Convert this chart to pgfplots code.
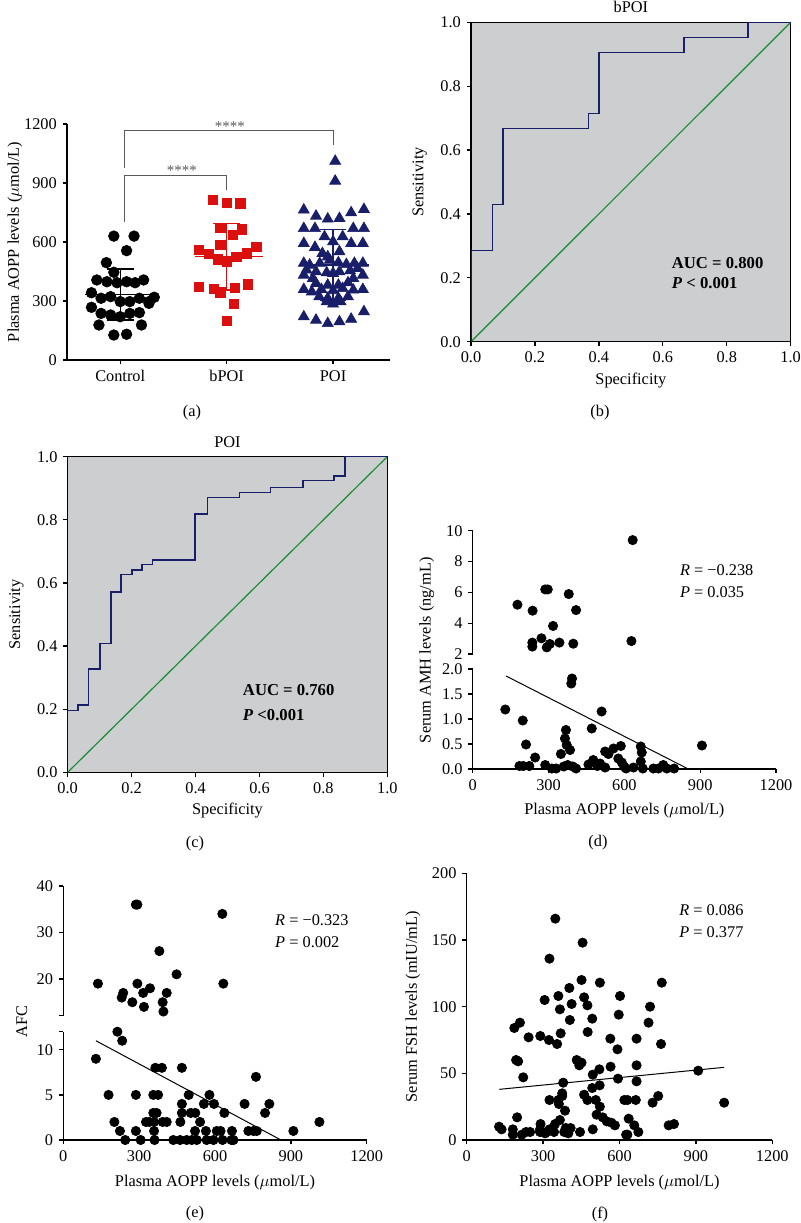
\documentclass[border=0pt]{standalone}
\usepackage{fontspec}
\setmainfont{Liberation Serif}
\usepackage{pgfplots}
\pgfplotsset{compat=1.18}
\definecolor{navyc}{RGB}{25,30,105}
\definecolor{redc}{RGB}{220,15,15}
\definecolor{rocbg}{RGB}{205,206,208}
\definecolor{rocgreen}{RGB}{20,140,50}
\definecolor{brk}{RGB}{90,90,90}
\pgfplotsset{
  every axis/.append style={
    scale only axis,
    anchor=south west,
    /pgf/number format/assume math mode=true,
    /pgf/number format/1000 sep={},
    tick align=outside,
    major tick length=2.6pt,
    axis line style={line width=0.8pt},
    every tick/.style={black, line width=0.8pt},
  },
  scat/.style={
    axis x line*=bottom, axis y line*=left,
    xmin=0, xmax=1200, xtick={0,300,600,900,1200},
    clip=false,
  },
  roc/.style={
    xmin=0, xmax=1, ymin=0, ymax=1,
    xtick={0,0.2,0.4,0.6,0.8,1}, ytick={0,0.2,0.4,0.6,0.8,1},
    tick pos=left,
    axis background/.style={fill=rocbg},
    xticklabel style={/pgf/number format/.cd,fixed,fixed zerofill,precision=1},
    yticklabel style={/pgf/number format/.cd,fixed,fixed zerofill,precision=1},
    ylabel={Sensitivity}, xlabel={Specificity},
    ylabel style={at={(axis description cs:-0.16,0.5)},anchor=center},
    xlabel style={at={(axis description cs:0.5,-0.12)},anchor=center},
    title style={at={(axis description cs:0.5,1)},anchor=center,yshift=3pt},
  },
  dots/.style={only marks, mark=*, mark size=2.8pt, black},
}
\begin{document}
\begin{tikzpicture}[font=\fontsize{9.8}{11.5}\selectfont]
\useasboundingbox (0,0) rectangle (480pt,-733.8pt);

% ---------------- (a) ----------------
\begin{axis}[at={(40.2pt,-216pt)}, width=193.8pt, height=141.6pt,
  axis x line*=bottom, axis y line*=left,
  xmin=-0.5, xmax=2.535, ymin=0, ymax=1200,
  xtick={0,1,2}, xticklabels={Control,bPOI,POI},
  ytick={0,300,600,900,1200},
  ylabel={Plasma AOPP levels ($\mu$mol/L)},
  ylabel style={at={(axis description cs:-0.161,0.5)},anchor=center},
  clip=false]
% Control
\addplot[only marks, mark=*, mark size=3.2pt, black] coordinates {
(-0.06,630)(0.13,630)(0.06,556)(-0.13,495)(-0.06,446)(-0.22,407)(-0.125,398)(-0.03,393)(0.06,398)(0.14,393)(0.22,407)
(-0.27,342)(-0.18,314)(-0.09,322)(0,297)(0.09,297)(0.18,314)(0.27,297)(0.32,319)
(-0.27,268)(-0.18,237)(-0.09,229)(0,220)(0.09,237)(0.18,241)(0.27,288)(-0.2,178)(0.2,178)(-0.06,127)(0.06,131)};
% bPOI
\addplot[only marks, mark=square*, mark size=2.8pt, redc] coordinates {
(0.87,814)(1,800)(1.13,797)(0.94,673)(1.06,636)(1.14,664)(0.94,585)
(0.74,559)(0.83,539)(0.92,512)(1,500)(1.09,525)(1.19,542)(1.28,576)
(0.74,373)(0.88,361)(0.94,344)(1.08,368)(1.2,385)(1.07,285)(1,200)};
% POI
\addplot[only marks, mark=triangle*, mark size=3.8pt, navyc] coordinates {
(2.02,1011)(2.02,910)
(1.725,763)(1.84,732)(1.95,717)(2.06,720)(2.17,749)(2.29,766)
(1.725,669)(1.83,669)(2.19,669)(2.29,669)(1.92,627)(2.09,627)
(1.725,593)(1.83,573)(2,602)(2.17,593)(2.28,593)(1.9,542)(2.06,551)(1.95,525)
(1.725,492)(1.78,483)(1.875,492)(1.97,508)(2.05,495)(2.125,486)(2.2,492)(2.28,492)
(1.75,458)(1.84,449)(1.94,444)(2,441)(2.06,449)(2.16,454)(2.23,466)
(1.725,432)(2.28,432)(1.81,415)(2.19,415)
(1.84,390)(1.95,381)(2.05,381)(2.14,393)
(1.725,359)(1.8,347)(1.89,359)(2,353)(2.09,364)(2.19,356)(2.28,359)
(1.87,322)(1.95,314)(2.05,314)(2.14,322)(1.94,297)(2,285)(2.07,297)
(1.725,220)(1.84,203)(1.95,186)(2.06,195)(2.17,208)(2.29,246)};
% mean and SD
\addplot[black, line width=0.8pt] coordinates {(-0.33,334)(0.34,334)};
\addplot[black, line width=0.8pt] coordinates {(0,203)(0,463)};
\addplot[black, line width=0.8pt] coordinates {(-0.125,463)(0.125,463)};
\addplot[black, line width=0.8pt] coordinates {(-0.125,203)(0.125,203)};
\addplot[redc, line width=0.8pt] coordinates {(0.7,525)(1.34,525)};
\addplot[redc, line width=0.8pt] coordinates {(1,356)(1,695)};
\addplot[redc, line width=0.8pt] coordinates {(0.875,695)(1.125,695)};
\addplot[redc, line width=0.8pt] coordinates {(0.875,356)(1.125,356)};
\addplot[navyc, line width=0.8pt] coordinates {(1.68,483)(2.34,483)};
\addplot[navyc, line width=0.8pt] coordinates {(2,303)(2,664)};
\addplot[navyc, line width=0.8pt] coordinates {(1.875,664)(2.125,664)};
\addplot[navyc, line width=0.8pt] coordinates {(1.875,303)(2.125,303)};
% brackets
\addplot[brk, line width=0.6pt] coordinates {(0.04,975)(0.04,1166)(2,1166)(2,1093)};
\addplot[brk, line width=0.6pt] coordinates {(0.04,703)(0.04,940)(1,940)(1,864)};
\node[brk, font=\small] at (axis cs:1.03,1188) {****};
\node[brk, font=\small] at (axis cs:0.58,962) {****};
\end{axis}

% ---------------- (b) ----------------
\begin{axis}[roc, at={(282.6pt,-205.02pt)}, width=191.82pt, height=191.64pt,
  title={bPOI}]
\addplot[rocgreen, line width=0.7pt] coordinates {(0,0)(1,1)};
\addplot[navyc, line width=0.9pt] coordinates {(0,0)(0,0.286)(0.0667,0.286)(0.0667,0.429)(0.1,0.429)(0.1,0.667)(0.367,0.667)(0.367,0.714)(0.4,0.714)(0.4,0.905)(0.667,0.905)(0.667,0.952)(0.867,0.952)(0.867,1)(1,1)};
\node[anchor=west, font=\bfseries] at (axis cs:0.61,0.245) {AUC = 0.800};
\node[anchor=west, font=\bfseries] at (axis cs:0.61,0.183) {\textit{P} < 0.001};
\end{axis}

% ---------------- (c) ----------------
\begin{axis}[roc, at={(40.62pt,-463.38pt)}, width=191.76pt, height=189.36pt,
  title={POI}]
\addplot[rocgreen, line width=0.7pt] coordinates {(0,0)(1,1)};
\addplot[navyc, line width=0.9pt] coordinates {(0,0)(0,0.196)(0.033,0.196)(0.033,0.214)(0.065,0.214)(0.065,0.328)(0.101,0.328)(0.101,0.408)(0.135,0.408)(0.135,0.572)(0.166,0.572)(0.166,0.626)(0.201,0.626)(0.201,0.641)(0.233,0.641)(0.233,0.659)(0.266,0.659)(0.266,0.673)(0.398,0.673)(0.398,0.819)(0.437,0.819)(0.437,0.870)(0.537,0.870)(0.537,0.886)(0.635,0.886)(0.635,0.902)(0.737,0.902)(0.737,0.924)(0.833,0.924)(0.833,0.939)(0.868,0.939)(0.868,1)(1,1)};
\node[anchor=west, font=\bfseries] at (axis cs:0.53,0.26) {AUC = 0.760};
\node[anchor=west, font=\bfseries] at (axis cs:0.53,0.18) {\textit{P} <0.001};
\end{axis}

% ---------------- (d) ----------------
\begin{axis}[at={(283.62pt,-392.4pt)}, width=181.98pt, height=73.98pt,
  axis x line=none, axis y line*=left, xmin=0, xmax=1200, ymin=2, ymax=10,
  ytick={2,4,6,8,10}, clip=false]
\addplot[dots] coordinates {(633,9.39)(177,5.2)(237,4.81)(287,6.19)(297,6.19)(380,5.89)(409,4.85)(318,3.82)(272,3.02)(236,2.74)(236,2.48)(293,2.43)(305,2.65)(343,2.74)(398,2.67)(628,2.84)};
\node[anchor=west] at (axis cs:797,7.45) {\textit{R} = −0.238};
\node[anchor=west] at (axis cs:797,6.0) {\textit{P} = 0.035};
\node[rotate=90] at (axis description cs:-0.152,0.03) {Serum AMH levels (ng/mL)};
\end{axis}
\begin{axis}[scat, at={(283.62pt,-461.4pt)}, width=181.98pt, height=60pt,
  ymin=0, ymax=2, ytick={0,0.5,1,1.5,2},
  yticklabel style={/pgf/number format/.cd,fixed,fixed zerofill,precision=1},
  xlabel={Plasma AOPP levels ($\mu$mol/L)},
  xlabel style={at={(axis description cs:0.5,-0.42)},anchor=center}]
\addplot[dots] coordinates {(129,1.19)(198,0.97)(211,0.49)(247,0.23)(185,0.06)(200,0.06)(224,0.06)(287,0.08)(313,0.01)(330,0.01)(349,0.30)(360,0.05)(376,0.08)(396,0.05)(409,0.01)(365,0.61)(369,0.78)(372,0.48)(385,0.38)(393,1.81)(390,1.71)(471,0.81)(458,0.09)(477,0.18)(493,0.06)(504,0.11)(524,0.03)(510,1.15)(524,0.35)(537,0.30)(557,0.41)(586,0.46)(576,0.21)(590,0.13)(599,0.05)(607,0.01)(636,0.03)(665,0.45)(669,0.33)(665,0.15)(673,0.01)(715,0.01)(735,0.01)(754,0.08)(768,0.01)(797,0.01)(907,0.47)};
\addplot[black, line width=0.6pt] coordinates {(132,1.86)(853,0)};
\end{axis}

% ---------------- (e) ----------------
\begin{axis}[at={(37.98pt,-609.42pt)}, width=182.04pt, height=77.82pt,
  axis x line=none, axis y line*=left, xmin=0, xmax=1200, ymin=12.1, ymax=40,
  ytick={20,30,40}, extra y ticks={12.1}, extra y tick labels={}, clip=false]
\addplot[dots] coordinates {(287,36)(293,36)(629,34)(380,26)(137,19)(293,19)(633,19)(448,21)(343,18)(237,17)(231,16)(273,15)(316,17)(319,14)(393,15)(396,13)(409,17)};
\node[anchor=west] at (axis cs:815,32.7) {\textit{R} = −0.323};
\node[anchor=west] at (axis cs:815,28.0) {\textit{P} = 0.002};
\node[rotate=90] at (axis description cs:-0.137,-0.046) {AFC};
\end{axis}
\begin{axis}[scat, at={(37.98pt,-684pt)}, width=182.04pt, height=64.98pt,
  ymin=0, ymax=12, ytick={0,5,10}, extra y ticks={12}, extra y tick labels={},
  xlabel={Plasma AOPP levels ($\mu$mol/L)},
  xlabel style={at={(axis description cs:0.5,-0.397)},anchor=center}]
\addplot[dots] coordinates {(214,12)(233,11)(129,9)(364,8)(390,8)(469,8)(762,7)
(179,5)(287,5)(356,5)(375,5)(496,5)(578,5)
(556,4)(596,4)(469,4)(717,4)(815,4)
(356,3)(369,3)(469,3)(504,3)(522,3)(637,3)(798,3)
(202,2)(327,2)(340,2)(359,2)(393,2)(409,2)(463,2)(541,2)(1013,2)
(224,1)(287,1)(359,1)(521,1)(564,1)(607,1)(622,1)(667,1)(732,1)(752,1)(765,1)(910,1)
(245,0)(306,0)(361,0)(435,0)(462,0)(488,0)(508,0)(528,0)(567,0)(594,0)(630,0)(665,0)(673,0)};
\addplot[black, line width=0.6pt] coordinates {(129,11)(861,0)};
\end{axis}

% ---------------- (f) ----------------
\begin{axis}[scat, at={(280.02pt,-684pt)}, width=183.36pt, height=160.02pt,
  ymin=0, ymax=200, ytick={0,50,100,150,200},
  ylabel={Serum FSH levels (mIU/mL)},
  ylabel style={at={(axis description cs:-0.176,0.5)},anchor=center},
  xlabel={Plasma AOPP levels ($\mu$mol/L)},
  xlabel style={at={(axis description cs:0.5,-0.161)},anchor=center}]
\addplot[dots] coordinates {(348,166)(455,148)(325,136)(451,120)(523,118)(766,118)(403,114)(360,108)(461,107)(602,108)(306,105)(412,102)(474,101)(720,100)(366,98)(597,94)(405,90)(493,91)(187,84)(209,88)(714,88)(475,81)(369,80)(243,77)(289,78)(323,75)(564,76)(667,76)(355,72)(763,72)(592,68)(194,60)(202,59)(432,60)(451,58)(442,56)(565,55)(667,56)(521,53)(222,47)(594,46)(379,43)(495,49)(667,44)(909,52)(493,39)(522,41)(375,35)(375,33)(360,30)(461,34)(474,30)(325,30)(507,30)(619,30)(631,30)(664,30)(730,28)(752,33)(1011,28)(362,27)(510,19)(523,25)(386,22)(198,17)(366,15)(534,17)(550,14)(568,13)(582,11)(636,16)(658,11)(793,11)(814,12)(347,12)(127,10)(137,8)(181,8)(181,4)(216,4)(233,6)(249,6)(288,8)(288,6)(290,12)(308,5)(314,6)(343,6)(389,9)(383,6)(399,5)(408,9)(445,6)(495,8)(626,4)(631,4)(674,6)(325,8)};
\addplot[black, line width=0.6pt] coordinates {(128,38)(1011,54.5)};
\node[anchor=west] at (axis cs:812,172) {\textit{R} = 0.086};
\node[anchor=west] at (axis cs:812,156) {\textit{P} = 0.377};
\end{axis}

% panel letters
\node at (115.2pt,-247.8pt) {(a)};
\node at (360pt,-247.8pt) {(b)};
\node at (117pt,-506.4pt) {(c)};
\node at (358.8pt,-505.8pt) {(d)};
\node at (117pt,-728.4pt) {(e)};
\node at (360pt,-728.4pt) {(f)};
\end{tikzpicture}
\end{document}
